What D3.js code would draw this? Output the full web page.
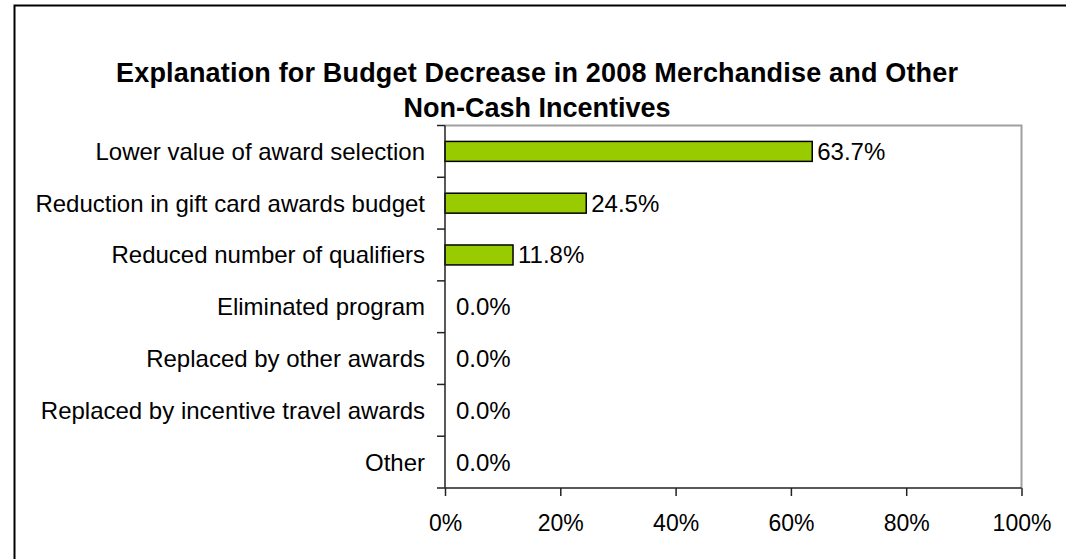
<!DOCTYPE html>
<html>
<head>
<meta charset="utf-8">
<script src="https://cdn.jsdelivr.net/npm/d3@7"></script>
<style>
  html, body { margin: 0; padding: 0; background: #fff; }
  svg { display: block; font-family: "Liberation Sans", Arial, sans-serif; }
</style>
</head>
<body>
<svg id="chart" width="1066" height="559"></svg>
<script>
// Reasons given for lowering the merchandise / non-cash incentive budget
const categories = [
  "Lower value of award selection",
  "Reduction in gift card awards budget",
  "Reduced number of qualifiers",
  "Eliminated program",
  "Replaced by other awards",
  "Replaced by incentive travel awards",
  "Other"
];
const shares = [63.7, 24.5, 11.8, 0.0, 0.0, 0.0, 0.0];
const xTicks = [0, 20, 40, 60, 80, 100];
const titleLines = [
  "Explanation for Budget Decrease in 2008 Merchandise and Other",
  "Non-Cash Incentives"
];

const svg = d3.select("#chart");
const W = 1066, H = 559;
const plot = { left: 445, right: 1021.5, top: 125.5, bottom: 488 };

// outer frame (right and bottom edges run off the canvas)
svg.append("rect")
  .attr("x", 14.5).attr("y", 5.5)
  .attr("width", W + 10).attr("height", H + 10)
  .attr("fill", "#fff").attr("stroke", "#000").attr("stroke-width", 2);

// title
svg.append("g").selectAll("text").data(titleLines).join("text")
  .attr("x", 537).attr("y", (d, i) => 82 + i * 35)
  .attr("text-anchor", "middle")
  .attr("font-size", 27).attr("font-weight", "bold").attr("fill", "#000")
  .attr("textLength", (d, i) => i === 0 ? 842 : null)
  .text(d => d);

const x = d3.scaleLinear().domain([0, 100]).range([plot.left, plot.right]);
const y = d3.scaleBand().domain(categories).range([plot.top, plot.bottom]).paddingInner(0.615).paddingOuter(0.3075);

// plot-area border (top and right)
svg.append("path")
  .attr("d", `M${plot.left},${plot.top}H${plot.right}V${plot.bottom}`)
  .attr("fill", "none").attr("stroke", "#a0a0a0").attr("stroke-width", 2);

// bars
svg.append("g").selectAll("rect").data(shares).join("rect")
  .attr("x", x(0))
  .attr("y", (d, i) => y(categories[i]))
  .attr("width", d => x(d) - x(0))
  .attr("height", y.bandwidth())
  .attr("fill", "#99cc00")
  .attr("stroke", "#000").attr("stroke-width", 1.5)
  .attr("display", d => d > 0 ? null : "none");

// value labels
svg.append("g").selectAll("text").data(shares).join("text")
  .attr("x", d => d > 0 ? x(d) + 5 : x(0) + 11)
  .attr("y", (d, i) => y(categories[i]) + y.bandwidth() / 2)
  .attr("dy", "0.35em")
  .attr("font-size", 24).attr("fill", "#000")
  .text(d => d.toFixed(1) + "%");

// category axis: ticks sit on band boundaries
const yAxis = svg.append("g");
yAxis.append("line")
  .attr("x1", plot.left).attr("x2", plot.left)
  .attr("y1", plot.top).attr("y2", plot.bottom)
  .attr("stroke", "#222").attr("stroke-width", 1.5);
const step = y.step();
yAxis.selectAll("line.tick").data(d3.range(categories.length + 1)).join("line")
  .attr("class", "tick")
  .attr("x1", plot.left - 8).attr("x2", plot.left)
  .attr("y1", i => y(categories[0]) - y.paddingOuter() * step + i * step)
  .attr("y2", i => y(categories[0]) - y.paddingOuter() * step + i * step)
  .attr("stroke", "#222").attr("stroke-width", 1.5);
yAxis.selectAll("text").data(categories).join("text")
  .attr("x", plot.left - 20)
  .attr("y", d => y(d) + y.bandwidth() / 2)
  .attr("dy", "0.35em")
  .attr("text-anchor", "end")
  .attr("font-size", 24).attr("fill", "#000")
  .text(d => d);

// value axis
const xAxis = svg.append("g")
  .attr("transform", `translate(0,${plot.bottom})`)
  .call(d3.axisBottom(x).tickValues(xTicks).tickSize(8).tickPadding(19).tickFormat(d => d + "%"));
xAxis.select(".domain").attr("stroke", "#222").attr("stroke-width", 1.5)
  .attr("d", `M${plot.left},0H${plot.right}`);
xAxis.selectAll(".tick line").attr("stroke", "#222").attr("stroke-width", 1.5);
xAxis.selectAll(".tick text")
  .attr("font-size", 23).attr("fill", "#000")
  .attr("font-family", "'Liberation Sans', Arial, sans-serif");
</script>
</body>
</html>
